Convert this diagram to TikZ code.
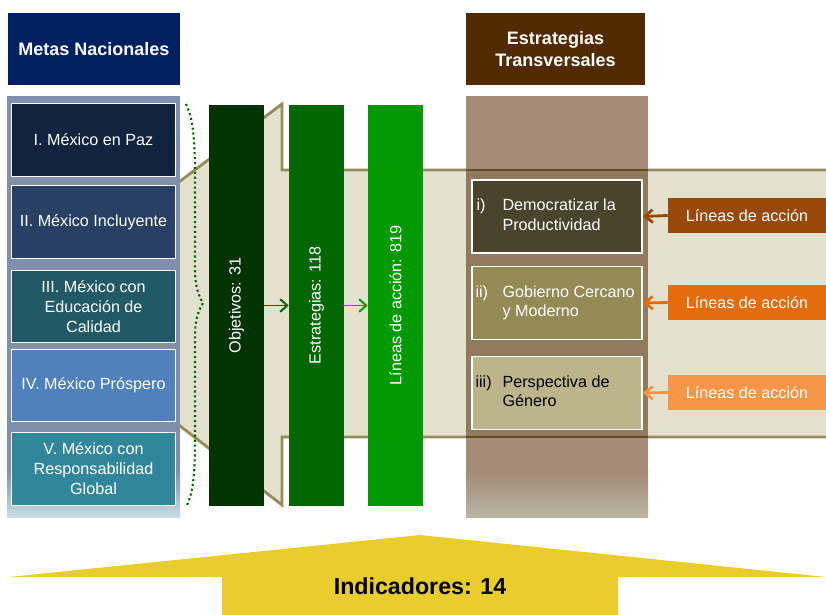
\documentclass[tikz,border=0pt]{standalone}
\usepackage{fontspec}
\setmainfont{Liberation Sans}
\usepackage{tikz}
\usetikzlibrary{arrows.meta}

\definecolor{metasblue}{HTML}{002060}
\definecolor{goalI}{HTML}{10243F}
\definecolor{goalII}{HTML}{284063}
\definecolor{goalIII}{HTML}{225967}
\definecolor{goalIV}{HTML}{4F81BD}
\definecolor{goalV}{HTML}{31869B}
\definecolor{leftcol}{HTML}{7F8FAD}
\definecolor{leftfade}{HTML}{C9DDE3}
\definecolor{bandfill}{HTML}{E5E1CF}
\definecolor{bandline}{HTML}{958B5B}
\definecolor{objgreen}{HTML}{003300}
\definecolor{strgreen}{HTML}{006600}
\definecolor{lingreen}{HTML}{009900}
\definecolor{transbrown}{HTML}{522A00}
\definecolor{browncol}{HTML}{A48B75}
\definecolor{browndark}{HTML}{927A5F}
\definecolor{brownline}{HTML}{604D2B}
\definecolor{brownfade}{HTML}{B7B5A2}
\definecolor{stratI}{HTML}{4A442D}
\definecolor{stratII}{HTML}{948A55}
\definecolor{stratIII}{HTML}{BCB48B}
\definecolor{accionI}{HTML}{984807}
\definecolor{accionII}{HTML}{E46C0A}
\definecolor{accionIII}{HTML}{F79646}
\definecolor{indyellow}{HTML}{E8CD2C}

\begin{document}
\begin{tikzpicture}[x=0.025cm,y=-0.025cm,
  header/.style={font=\fontsize{12.8}{15.6}\selectfont\bfseries, text=white, align=center, minimum height=1.8cm, inner sep=0pt},
  goal/.style={draw=white, line width=0.7pt, text=white, align=center, minimum width=4.075cm, minimum height=1.8cm, inner sep=0pt, font=\fontsize{11.5}{14.2}\selectfont},
  bar/.style={minimum width=1.375cm, minimum height=10.025cm, inner sep=0pt},
  bartext/.style={rotate=90, text=white, font=\fontsize{11.5}{14}\selectfont},
  strat/.style={draw=white, line width=1pt, minimum width=4.25cm, minimum height=1.825cm, inner sep=0pt},
  strattext/.style={anchor=west, inner sep=0pt, font=\fontsize{11.5}{14.2}\selectfont},
  accion/.style={minimum width=3.95cm, minimum height=0.875cm, inner sep=0pt, text=white, font=\fontsize{11.5}{14}\selectfont},
  greenarrow/.style={-{Straight Barb[length=5pt,width=9pt]}, line width=1.4pt},
  orangearrow/.style={-{Straight Barb[length=5.5pt,width=9pt]}, line width=2pt}]
\useasboundingbox (0,0) rectangle (826,615);

% band behind the columns
\fill[bandfill] (175,185) -- (282,104) -- (282,170) -- (826,170) -- (826,437) -- (282,437) -- (282,505) -- (175,422) -- cycle;
\draw[bandline, line width=2pt] (826,170) -- (282,170) -- (282,104) -- (175,185);
\draw[bandline, line width=2pt] (826,437) -- (282,437) -- (282,505) -- (175,422);

% columns
\fill[leftcol] (7,96) rectangle (180,517);
\shade[top color=leftcol, bottom color=leftfade] (7,470) rectangle (180,517);
\fill[browncol] (466,96) rectangle (648,517);
\shade[top color=browncol, bottom color=brownfade] (466,470) rectangle (648,517);
\fill[browndark] (466,170) rectangle (648,437);
\draw[brownline, line width=2pt] (466,170) -- (648,170);
\draw[brownline, line width=2pt] (466,437) -- (648,437);

% headers
\node[header, fill=metasblue, minimum width=4.3cm] (metas) at (94,49) {Metas Nacionales};
\node[header, fill=transbrown, minimum width=4.475cm] (trans) at (555.5,49) {Estrategias\\Transversales};

% metas nacionales
\foreach \i/\yc/\col/\txt in {1/140/goalI/{I. México en Paz},
    2/222/goalII/{II. México Incluyente},
    3/306.5/goalIII/{III. México con\\Educación de\\Calidad},
    4/385.5/goalIV/{IV. México Próspero},
    5/469/goalV/{V. México con\\Responsabilidad\\Global}}
  \node[goal, fill=\col] (g\i) at (93.5,\yc) {\txt};

% dotted brace
\draw[strgreen, line width=1.5pt, dash pattern=on 1.5pt off 2pt] (186,104) .. controls (193,118) and (195,140) .. (195,175) -- (195,270) .. controls (195,285) and (198,295) .. (203,303) .. controls (198,311) and (195,321) .. (195,336) -- (195,440) .. controls (195,475) and (193,492) .. (187,505);

% bars
\node[bar, fill=objgreen] (obj) at (236.5,305.5) {};
\node[bar, fill=strgreen] (str) at (316.5,305.5) {};
\node[bar, fill=lingreen] (lin) at (395.5,305.5) {};
\node[bartext] (obj-t) at (obj) {Objetivos: 31};
\node[bartext] (str-t) at (str) {Estrategias: 118};
\node[bartext] (lin-t) at (lin) {Líneas de acción: 819};
\draw[greenarrow, strgreen] (obj.east) -- (str.west);
\draw[greenarrow, lingreen] (str.east) -- (lin.west);

% estrategias transversales
\node[strat, fill=stratI] (s1) at (557,216.5) {};
\node[strat, fill=stratII] (s2) at (557,303) {};
\node[strat, fill=stratIII] (s3) at (557,393) {};
\node[strattext, text=white] (s1-t) at ([xshift=0.125cm]s1.west) {\begin{tabular}{@{}p{0.65cm}@{}l@{}}i) & Democratizar la\\ & Productividad\end{tabular}};
\node[strattext, text=white] (s2-t) at ([xshift=0.1cm]s2.west) {\begin{tabular}{@{}p{0.675cm}@{}l@{}}ii) & Gobierno Cercano\\ & y Moderno\end{tabular}};
\node[strattext, text=black] (s3-t) at ([xshift=0.1cm]s3.west) {\begin{tabular}{@{}p{0.675cm}@{}l@{}}iii) & Perspectiva de\\ & Género\end{tabular}};

% lineas de accion
\node[accion, fill=accionI] (a1) at (747,215.5) {Líneas de acción};
\node[accion, fill=accionII] (a2) at (747,302.5) {Líneas de acción};
\node[accion, fill=accionIII] (a3) at (747,392.5) {Líneas de acción};
\draw[orangearrow, accionI] (a1.west) -- (s1.east);
\draw[orangearrow, accionII] (a2.west) -- (s2.east);
\draw[orangearrow, accionIII] (a3.west) -- (s3.east);

% indicadores
\fill[indyellow] (420,535) -- (826,577) -- (618,577) -- (618,615) -- (222,615) -- (222,577) -- (9,577) -- cycle;
\node[font=\fontsize{16.5}{18}\selectfont\bfseries, anchor=base] (ind) at (420,594) {Indicadores: 14};
\end{tikzpicture}
\end{document}
